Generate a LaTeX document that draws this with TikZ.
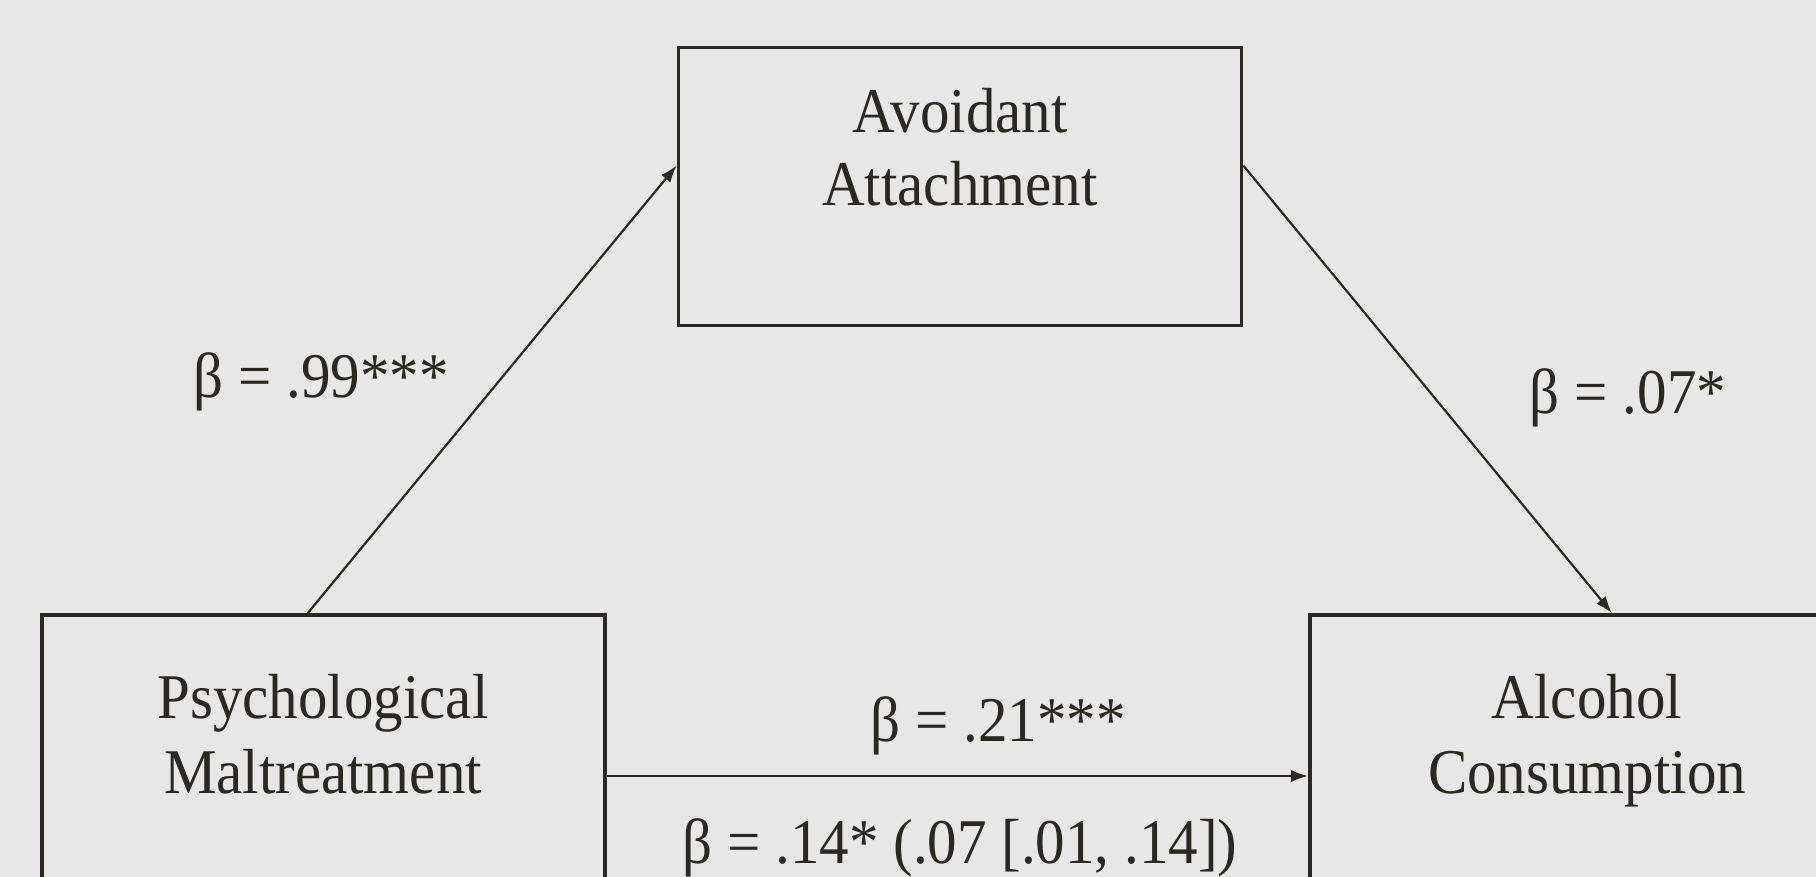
\documentclass[tikz,border=0pt]{standalone}
\usepackage{fontspec}
\setmainfont{Liberation Serif}
\usetikzlibrary{arrows.meta}
\definecolor{bg}{HTML}{E7E7E7}
\definecolor{ink}{HTML}{2B2820}
\newcommand{\tall}[1]{\scalebox{1}[1.08]{#1}}
\begin{document}
\begin{tikzpicture}[x=1pt,y=-1pt,
  box/.style={draw=ink,line width=3.6pt,minimum width=563pt,minimum height=278pt,inner sep=0pt},
  txt/.style={text=ink,font=\fontsize{59}{70}\selectfont,anchor=base,inner sep=0pt},
  arr/.style={draw=ink,line width=2.2pt,-{Latex[length=17pt,width=12pt]}}]
\useasboundingbox (0,0) rectangle (1816,877);
\clip (0,0) rectangle (1816,877);
\fill[bg] (0,0) rectangle (1816,877);
\node[box] (tbox) at (960,186.5) {};
\node[box] (lbox) at (323.7,754) {};
\node[box] (rbox) at (1591.5,754) {};
\node[txt] (t1) at (960,133) {\tall{Avoidant}};
\node[txt] (t2) at (960,206) {\tall{Attachment}};
\node[txt] (l1) at (323,718) {\tall{Psychological}};
\node[txt] (l2) at (323,793) {\tall{Maltreatment}};
\node[txt] (r1) at (1587,718) {\tall{Alcohol}};
\node[txt] (r2) at (1587,793) {\tall{Consumption}};
\node[txt] (b1) at (321,397) {\tall{β = .99***}};
\node[txt] (b2) at (1628,413.5) {\tall{β = .07*}};
\node[txt] (b3) at (998,741) {\tall{β = .21***}};
\node[txt] (b4) at (960,863) {\tall{β = .14* (.07 [.01, .14])}};
\draw[arr] ([xshift=-16pt]lbox.north) -- ([yshift=21pt]tbox.west);
\draw[arr] ([yshift=21pt]tbox.east) -- ([xshift=20.5pt]rbox.north);
\draw[arr] ([yshift=-22pt]lbox.east) -- ([yshift=-22pt]rbox.west);
\end{tikzpicture}
\end{document}
